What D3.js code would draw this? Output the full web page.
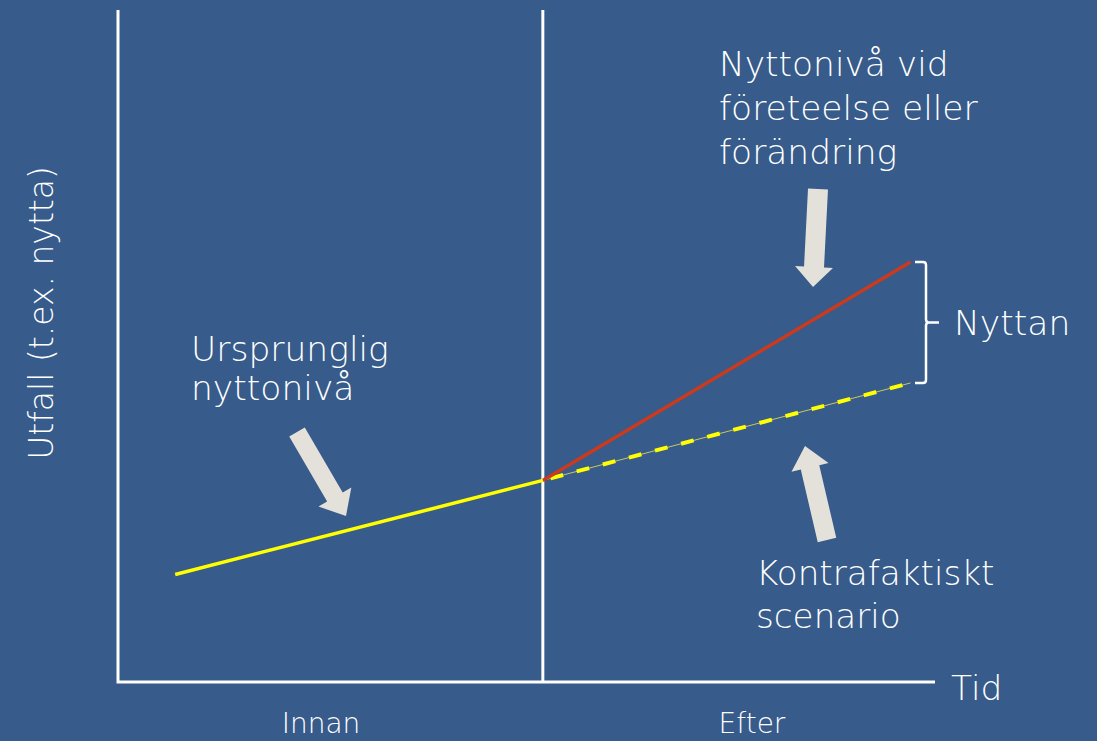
<!DOCTYPE html>
<html>
<head>
<meta charset="utf-8">
<script src="https://cdn.jsdelivr.net/npm/d3@7"></script>
<style>
  html, body { margin: 0; padding: 0; background: #375b8a; overflow: hidden; }
  svg text { font-family: "DejaVu Sans", "Open Sans", sans-serif; font-weight: 200; fill: #ffffff; }
</style>
</head>
<body>
<svg id="chart" width="1097" height="741"></svg>
<script>
'use strict';

// Conceptual "counterfactual" diagram: outcome over time, before / after.

const periods = ['Innan', 'Efter'];
const periodBreak = 52;          // time where "Innan" ends and "Efter" starts
const timeEnd = 100;

const baseline = [{ t: 7, v: 16 }, { t: 52, v: 30 }];          // yellow, solid
const withChange = [{ t: 52, v: 30 }, { t: 97, v: 62.5 }];     // red
const counterfactual = [{ t: 52, v: 30 }, { t: 97, v: 44.5 }]; // yellow, dashed

const labels = {
  yAxis: 'Utfall (t.ex. nytta)',
  xAxis: 'Tid',
  original: ['Ursprunglig', 'nyttonivå'],
  change: ['Nyttonivå vid', 'företeelse eller', 'förändring'],
  counter: ['Kontrafaktiskt', 'scenario'],
  gain: 'Nyttan'
};

const COLORS = {
  axis: '#ffffff',
  yellow: '#ffff00',
  red: '#cc3a1e',
  arrow: '#e4e1da'
};

const svg = d3.select('#chart');

const x = d3.scaleLinear().domain([0, timeEnd]).range([118, 935]);
const y = d3.scaleLinear().domain([0, 100]).range([682, 10]);

// ---- axes frame ----
const frame = svg.append('g').attr('stroke', COLORS.axis).attr('stroke-width', 3).attr('fill', 'none');
frame.append('path').attr('d', `M${x(0)},${y(100)}V${y(0)}H${x(timeEnd)}`);
frame.append('line')
  .attr('x1', x(periodBreak)).attr('x2', x(periodBreak))
  .attr('y1', y(100)).attr('y2', y(0));

// ---- lines ----
const line = d3.line().x((d) => x(d.t)).y((d) => y(d.v));

svg.append('path').datum(counterfactual)
  .attr('d', line).attr('fill', 'none')
  .attr('stroke', '#c8c860').attr('stroke-width', 1);
svg.append('path').datum(counterfactual)
  .attr('d', line).attr('fill', 'none')
  .attr('stroke', COLORS.yellow).attr('stroke-width', 4)
  .attr('stroke-dasharray', '13,14').attr('stroke-dashoffset', -8);
svg.append('path').datum(withChange)
  .attr('d', line).attr('fill', 'none')
  .attr('stroke', COLORS.red).attr('stroke-width', 3.5);
svg.append('path').datum(baseline)
  .attr('d', line).attr('fill', 'none')
  .attr('stroke', COLORS.yellow).attr('stroke-width', 3.5);

// ---- bracket "Nyttan" ----
const bTop = y(withChange[1].v), bBot = y(counterfactual[1].v);
const bx = x(timeEnd) - 9, bMid = (bTop + bBot) / 2;
svg.append('path')
  .attr('d', `M${bx - 11},${bTop}H${bx - 3}Q${bx},${bTop} ${bx},${bTop + 3}V${bMid - 3}Q${bx},${bMid} ${bx + 3},${bMid}H${bx + 13}` +
    `M${bx + 3},${bMid}Q${bx},${bMid} ${bx},${bMid + 3}V${bBot - 3}Q${bx},${bBot} ${bx - 3},${bBot}H${bx - 11}`)
  .attr('fill', 'none').attr('stroke', COLORS.axis).attr('stroke-width', 2.5);

// ---- block arrows ----
function blockArrow(tail, tip, shaft, head, headLen) {
  const dx = tip[0] - tail[0], dy = tip[1] - tail[1];
  const len = Math.hypot(dx, dy);
  const ux = dx / len, uy = dy / len, nx = -uy, ny = ux;
  const bx = tip[0] - ux * headLen, by = tip[1] - uy * headLen;
  const p = (ax, ay, w) => [ax + nx * w, ay + ny * w];
  const pts = [
    p(tail[0], tail[1], shaft / 2), p(bx, by, shaft / 2), p(bx, by, head / 2),
    tip, p(bx, by, -head / 2), p(bx, by, -shaft / 2), p(tail[0], tail[1], -shaft / 2)
  ];
  svg.append('polygon').attr('points', pts.map((q) => q.join(',')).join(' '))
    .attr('fill', COLORS.arrow);
}
blockArrow([297, 432], [346, 516], 18, 38, 22);
blockArrow([818, 189], [813, 287], 20, 38, 20);
blockArrow([827, 540], [805, 446], 19, 38, 22);

// ---- texts ----
function lines(arr, tx, ty, lh, size) {
  const t = svg.append('text').attr('x', tx).attr('y', ty).style('font-size', size + 'px');
  arr.forEach((s, i) => t.append('tspan').attr('x', tx).attr('dy', i ? lh : 0).text(s));
}
lines(labels.change, 719, 76, 44, 34.4);
lines(labels.original, 191, 361, 39, 34.5);
lines(labels.counter, 756, 585, 43, 34.2);
lines([labels.gain], 954, 335, 0, 34.5);
lines([labels.xAxis], 951, 700, 0, 34.5);

svg.append('text')
  .attr('transform', `translate(53, 313) rotate(-90)`)
  .attr('text-anchor', 'middle')
  .style('font-size', '33px')
  .text(labels.yAxis);

svg.selectAll('.period').data(periods).join('text')
  .attr('class', 'period')
  .attr('x', (d, i) => i === 0 ? 321 : 752)
  .attr('y', 733)
  .attr('text-anchor', 'middle')
  .style('font-size', '28px')
  .text((d) => d);
</script>
</body>
</html>
